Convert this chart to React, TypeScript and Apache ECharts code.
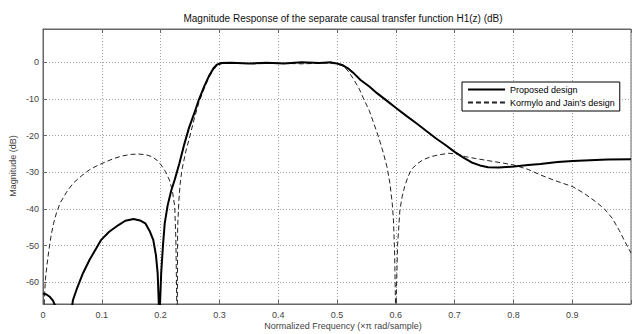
import React, { useEffect, useRef } from 'react';
import * as echarts from 'echarts';

const titleText = 'Magnitude Response of the separate causal transfer function H1(z) (dB)';
const xAxisLabel = 'Normalized Frequency (\u00d7\u03c0 rad/sample)';
const yAxisLabel = 'Magnitude (dB)';
const seriesNames = ['Proposed design', "Kormylo and Jain's design"];

const freqSolid = [
  0, 0.006, 0.012, 0.017, 0.021, 0.025, 0.03, 0.045, 0.049, 0.051, 0.057, 0.068, 0.079, 0.099, 0.1125,
  0.129, 0.14, 0.154, 0.165, 0.174, 0.182, 0.1875, 0.192, 0.195, 0.197, 0.198, 0.199, 0.201, 0.204,
  0.207, 0.212, 0.218, 0.224, 0.232, 0.24, 0.248, 0.257, 0.265, 0.274, 0.282, 0.29, 0.296, 0.302,
  0.32, 0.35, 0.38, 0.41, 0.44, 0.47, 0.49, 0.5, 0.51, 0.52, 0.53, 0.54, 0.555, 0.568, 0.585, 0.601,
  0.618, 0.635, 0.652, 0.668, 0.685, 0.7, 0.715, 0.729, 0.743, 0.757, 0.775, 0.801, 0.825, 0.846,
  0.875, 0.901, 0.93, 0.96, 1.0,
];
const magSolid = [
  -63.0, -63.3, -64.0, -65.0, -66.5, -80, -90, -90, -67, -64.8, -62, -57.5, -53.9, -48.4, -46.2,
  -44.3, -43.2, -42.7, -43.1, -43.9, -46.2, -48.4, -52.5, -57.5, -66, -90, -66, -57.5, -50,
  -43.9, -39, -35, -32, -27.5, -22.5, -18, -14, -10.2, -6.6, -3.8, -1.6, -0.6, -0.2,
  -0.1, -0.3, -0.1, -0.3, 0, -0.2, 0, -0.3, -0.8, -1.8, -3.2, -4.8, -6.6, -8.4, -10.5, -12.5,
  -14.6, -16.6, -18.7, -20.7, -22.6, -24.4, -26.0, -27.3, -28.1, -28.6, -28.7, -28.4, -28.0, -27.7,
  -27.2, -26.9, -26.7, -26.5, -26.4,
];

const freqDashed = [
  0, 0.002, 0.004, 0.007, 0.01, 0.014, 0.018, 0.023, 0.029, 0.04, 0.051, 0.065, 0.079, 0.093, 0.107,
  0.121, 0.135, 0.15, 0.1625, 0.175, 0.185, 0.194, 0.201, 0.208, 0.215, 0.22, 0.224, 0.226, 0.2275,
  0.228, 0.2285, 0.229, 0.231, 0.233, 0.236, 0.243, 0.25, 0.257, 0.265, 0.274, 0.282, 0.29, 0.297,
  0.305, 0.33, 0.36, 0.4, 0.44, 0.48, 0.5, 0.512, 0.52, 0.529, 0.538, 0.546, 0.555, 0.5625, 0.571,
  0.579, 0.585, 0.59, 0.594, 0.596, 0.598, 0.5995, 0.6, 0.6005, 0.603, 0.607, 0.611, 0.615, 0.62,
  0.626, 0.636, 0.646, 0.66, 0.674, 0.69, 0.705, 0.718, 0.735, 0.757, 0.78, 0.801, 0.825, 0.846,
  0.87, 0.901, 0.92, 0.94, 0.955, 0.968, 0.98, 0.99, 1.0,
];
const magDashed = [
  -90, -66, -59.3, -55, -51.2, -47, -43.9, -41, -38.4, -35.4, -33.0, -31, -29.3, -28.1, -27.1,
  -26.2, -25.5, -25.1, -25.0, -25.2, -25.7, -26.7, -28.0, -29.7, -32.1, -35, -39.3, -48.4, -66,
  -90, -66, -45, -38, -33.5, -29.5, -24.2, -20, -15.5, -11, -7.2, -4.2, -2, -0.8,
  -0.3, -0.2, -0.4, -0.2, -0.4, -0.2, -0.4, -1.1, -2.6, -4.8, -7.3, -10.2, -13.2, -16.6, -20.5,
  -24.8, -28.5, -33.0, -38.5, -43.0, -52, -66, -90, -66, -50, -40.2, -36.5, -33.9, -31.5,
  -29.3, -27.7, -26.6, -25.7, -25.2, -24.8, -25.0, -25.7, -26.2, -26.8, -27.4, -28.0, -29.2, -30.7,
  -32.2, -33.9, -35.7, -38.0, -40.0, -42.5, -45.8, -49.0, -52,
];

const xMin = 0;
const xMax = 1;
const xStep = 0.1;
const yMin = -65.9;
const yMax = 9.1;

export default function App() {
  const ref = useRef<HTMLDivElement>(null);
  useEffect(() => {
    if (!ref.current) return;
    const chart = echarts.init(ref.current, null, { renderer: 'svg' });
    const font = '"Liberation Sans", Arial, sans-serif';
    const axisColor = '#666';
    const gridLine = { show: true, lineStyle: { color: '#a0a0a0', type: [1, 2], width: 1 } };
    chart.setOption({
      animation: false,
      backgroundColor: '#fff',
      grid: {
        left: 43, right: -9, top: 29, bottom: 30,
        show: true, borderColor: axisColor, borderWidth: 1, backgroundColor: 'transparent',
      },
      xAxis: [
        {
          type: 'value', min: xMin, max: xMax, interval: xStep,
          axisLine: { show: true, onZero: false, lineStyle: { color: axisColor } },
          axisTick: { show: true, inside: true, length: 4, lineStyle: { color: axisColor } },
          axisLabel: {
            color: '#444', fontSize: 9, fontFamily: font, margin: 6,
            formatter: (v: number) => (v >= xMax - 1e-6 ? '' : String(+v.toFixed(1))),
          },
          splitLine: gridLine,
        },
        {
          type: 'value', position: 'top', min: xMin, max: xMax, interval: xStep,
          axisLine: { show: true, onZero: false, lineStyle: { color: axisColor } },
          axisTick: { show: true, inside: true, length: 4, lineStyle: { color: axisColor } },
          axisLabel: { show: false },
          splitLine: { show: false },
        },
      ],
      yAxis: {
        type: 'value', min: yMin, max: yMax, splitNumber: 8,
        axisLine: { show: true, onZero: false, lineStyle: { color: axisColor } },
        axisTick: { show: true, inside: true, length: 4, lineStyle: { color: axisColor } },
        axisLabel: {
          color: '#444', fontSize: 9, fontFamily: font, margin: 4,
          formatter: (v: number) => {
            const r = Math.round(v / 10) * 10;
            return Math.abs(v - r) < 1e-6 ? String(r) : '';
          },
        },
        splitLine: gridLine,
      },
      legend: {
        left: 462, top: 82, orient: 'vertical',
        padding: [3, 5, 4, 5], itemGap: 4, itemWidth: 37, itemHeight: 10,
        borderColor: '#000', borderWidth: 1, backgroundColor: '#fff',
        selectedMode: false,
        itemStyle: { opacity: 0 },
        textStyle: { fontSize: 9, color: '#000', fontFamily: font },
        data: seriesNames,
      },
      series: [
        {
          name: seriesNames[0], type: 'line', xAxisIndex: 0,
          data: freqSolid.map((f, i) => [f, magSolid[i]]),
          symbol: 'none', showSymbol: false, clip: true, z: 4,
          lineStyle: { color: '#000', width: 2 },
          itemStyle: { color: '#000' },
        },
        {
          name: seriesNames[1], type: 'line', xAxisIndex: 0,
          data: freqDashed.map((f, i) => [f, magDashed[i]]),
          symbol: 'none', showSymbol: false, clip: true, z: 3,
          lineStyle: { color: '#222', width: 1, type: [5, 3] },
          itemStyle: { color: '#222' },
        },
      ],
      graphic: [
        {
          type: 'text', x: 343, y: 18,
          style: { text: titleText, fill: '#111', fontSize: 10, fontFamily: font, align: 'center', verticalAlign: 'middle' },
        },
        {
          type: 'text', x: 343, y: 326,
          style: { text: xAxisLabel, fill: '#444', fontSize: 9, fontFamily: font, align: 'center', verticalAlign: 'middle' },
        },
        {
          type: 'text', x: 13, y: 166, rotation: Math.PI / 2,
          style: { text: yAxisLabel, fill: '#444', fontSize: 9, fontFamily: font, align: 'center', verticalAlign: 'middle' },
        },
      ],
    });
    return () => chart.dispose();
  }, []);
  return <div ref={ref} style={{ position: 'absolute', left: 0, top: 0, width: 634, height: 334 }} />;
}
